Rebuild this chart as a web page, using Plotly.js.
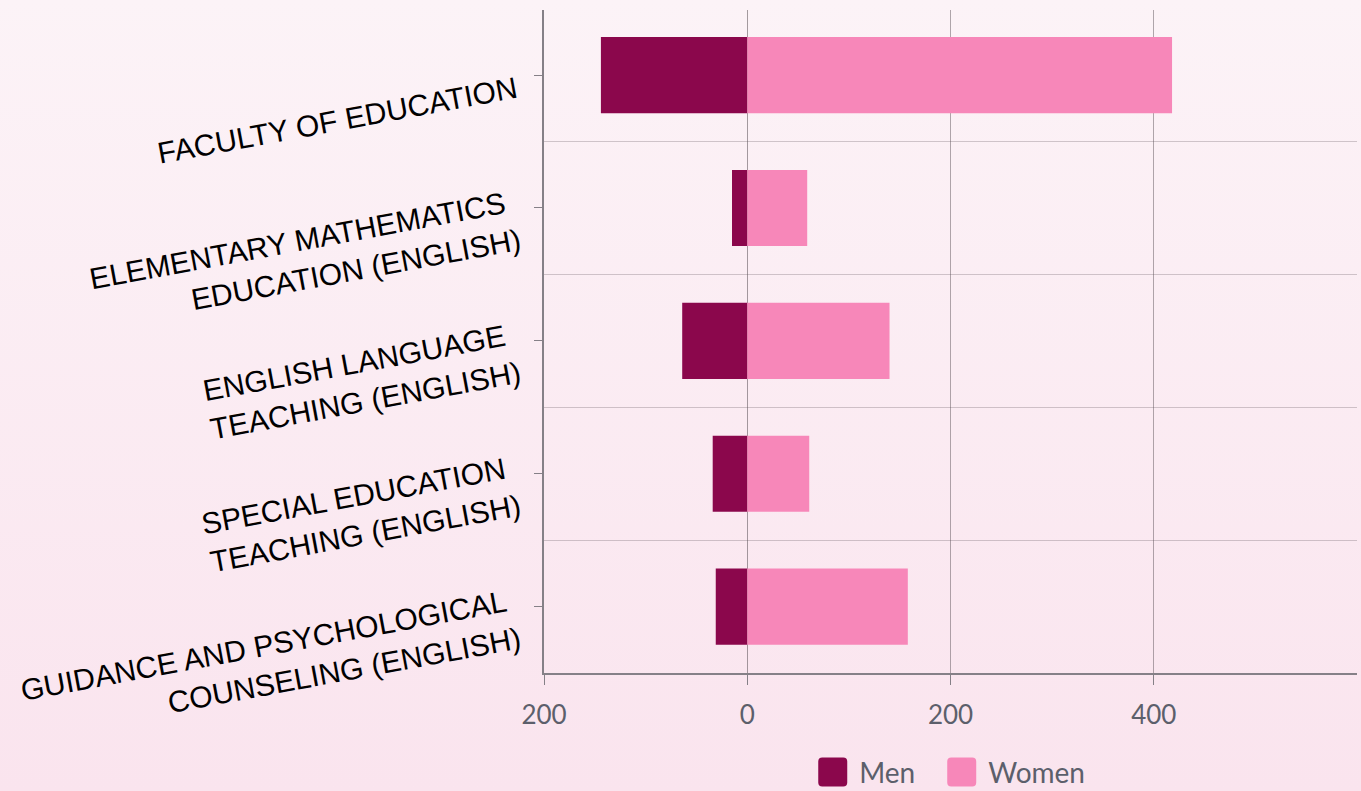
<!DOCTYPE html>
<html>
<head>
<meta charset="utf-8">
<script src="https://cdn.plot.ly/plotly-3.0.1.min.js"></script>
<style>
  html, body { margin: 0; padding: 0; width: 1361px; height: 791px; overflow: hidden;
    background: linear-gradient(to bottom, #fcf3f7 0%, #fae4ee 100%); }
  #chart { width: 1361px; height: 791px; }
</style>
</head>
<body>
<div id="chart"></div>
<script>
const categories = [
  "FACULTY OF EDUCATION",
  "ELEMENTARY MATHEMATICS <br>EDUCATION (ENGLISH)",
  "ENGLISH LANGUAGE <br>TEACHING (ENGLISH)",
  "SPECIAL EDUCATION <br>TEACHING (ENGLISH)",
  "GUIDANCE AND PSYCHOLOGICAL <br>COUNSELING (ENGLISH)"
];
const men = [-144, -15, -64, -34, -31];
const women = [418, 59, 140, 61, 158];
const xTickVals = [-200, 0, 200, 400];
const xTickText = ["200", "0", "200", "400"];

const positions = categories.map((c, i) => i);

const traces = [
  { type: "bar", orientation: "h", name: "Men", x: men, y: positions,
    marker: { color: "#8b074c" }, hoverinfo: "x+name" },
  { type: "bar", orientation: "h", name: "Women", x: women, y: positions,
    marker: { color: "#f787b9" }, hoverinfo: "x+name" }
];

const layout = {
  width: 1361, height: 791,
  paper_bgcolor: "rgba(0,0,0,0)", plot_bgcolor: "rgba(0,0,0,0)",
  margin: { l: 544, r: 4, t: 10, b: 118, autoexpand: false },
  barmode: "relative",
  bargap: 0.427,
  showlegend: true,
  legend: { orientation: "h", x: 0.488, xanchor: "center", yref: "paper", y: -0.112, yanchor: "top",
    font: { family: "Lato", size: 28, color: "#5c5f6b" }, itemwidth: 58 },
  xaxis: {
    range: [-200, 600], tickvals: xTickVals, ticktext: xTickText,
    showgrid: true, gridcolor: "rgba(90,80,85,0.48)", gridwidth: 1,
    zeroline: true, zerolinecolor: "rgba(90,80,85,0.55)", zerolinewidth: 1,
    showline: true, linecolor: "#858087", linewidth: 2,
    ticks: "outside", ticklen: 10, tickcolor: "#858087", tickwidth: 1,
    ticklabelstandoff: 8,
    tickfont: { family: "Lato", size: 26, color: "#5c5f6b" }
  },
  yaxis: {
    range: [4.5, -0.49], tickvals: positions, ticktext: categories,
    showgrid: false, zeroline: false,
    showline: true, linecolor: "#858087", linewidth: 2,
    ticks: "outside", ticklen: 8, tickcolor: "#858087", tickwidth: 1,
    tickangle: -10.5, ticklabelstandoff: 12, ticklabelshift: -12,
    tickfont: { family: "Liberation Sans", size: 30, color: "#000000" },
    minor: { tick0: 0.5, dtick: 1, showgrid: true, gridcolor: "rgba(90,80,85,0.28)", gridwidth: 1, ticks: "" }
  }
};

// Enlarge legend swatches to rounded squares placed just before each legend label.
function bigLegendSymbols(gd) {
  const r = 4, h = 14.5, gap = 12;
  gd.querySelectorAll(".legend .traces").forEach(item => {
    const text = item.querySelector("text.legendtext");
    const path = item.querySelector(".legendpoints path");
    if (!text || !path) return;
    const tb = text.getBoundingClientRect();
    const svg = path.ownerSVGElement;
    const pt = svg.createSVGPoint();
    pt.x = tb.left - gap - h; pt.y = 0;
    const ctm = path.getScreenCTM();
    const cx = ctm ? pt.matrixTransform(ctm.inverse()).x : 0;
    const L = cx - h, R = cx + h, T = -h, B = h;
    const d = `M${L + r},${T}H${R - r}A${r},${r} 0 0 1 ${R},${T + r}V${B - r}A${r},${r} 0 0 1 ${R - r},${B}` +
              `H${L + r}A${r},${r} 0 0 1 ${L},${B - r}V${T + r}A${r},${r} 0 0 1 ${L + r},${T}Z`;
    path.setAttribute("d", d);
    path.style.strokeWidth = "0";
  });
}

Plotly.newPlot("chart", traces, layout, { displayModeBar: false, staticPlot: true }).then(gd => {
  bigLegendSymbols(gd);
  gd.on("plotly_afterplot", () => bigLegendSymbols(gd));
});
</script>
</body>
</html>
